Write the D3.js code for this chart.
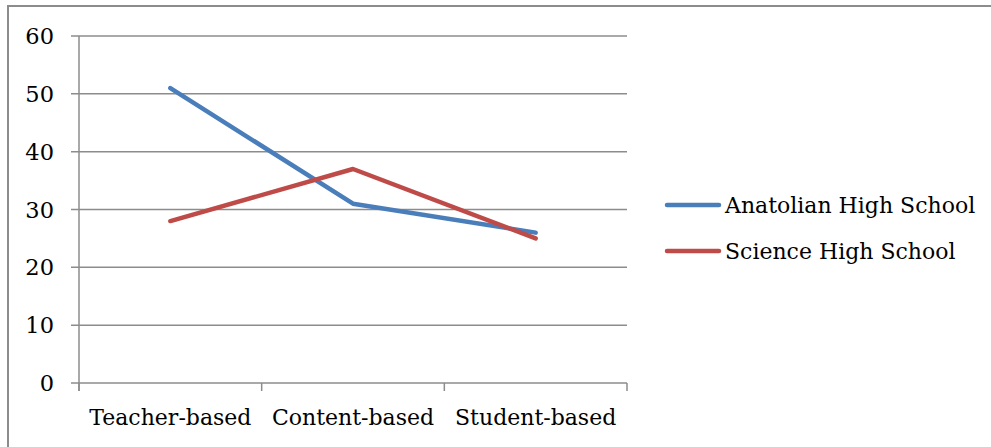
<!DOCTYPE html>
<style>
body { margin: 0; background: #fff; }
text { font-family: 'DejaVu Serif', serif; fill: #000; }
</style>
<div id="chart"></div>
<script src="https://d3js.org/d3.v7.min.js"></script>
<script>
var categories = ['Teacher-based', 'Content-based', 'Student-based']
var anatolian = [51, 31, 26]
var science = [28, 37, 25]
var seriesNames = ['Anatolian High School', 'Science High School']
var seriesColors = ['#4a7ebb', '#be4b48']
var yTicks = [0, 10, 20, 30, 40, 50, 60]

var W = 991, H = 447
var margin = { top: 36, left: 79, right: 364, bottom: 64 }
var width = W - margin.left - margin.right
var height = H - margin.top - margin.bottom

var svg = d3.select('#chart')
  .append('svg')
  .attr('width', W)
  .attr('height', H)

// chart border (right and bottom run off the page)
svg.append('rect')
  .attr('x', 8).attr('y', 6)
  .attr('width', W + 10).attr('height', H + 10)
  .attr('fill', 'none')
  .attr('stroke', '#8c8c8c')
  .attr('stroke-width', 2)

var g = svg.append('g')
  .attr('transform', 'translate(' + margin.left + ',' + margin.top + ')')

var x = d3.scaleBand().domain(categories).range([0, width])
var y = d3.scaleLinear().domain([0, 60]).range([height, 0])

// gridlines
g.selectAll('.grid')
  .data(yTicks)
  .enter().append('line')
  .attr('x1', -8).attr('x2', width)
  .attr('y1', d => y(d)).attr('y2', d => y(d))
  .attr('stroke', '#8c8c8c')
  .attr('stroke-width', 1.5)

// y axis line
g.append('line')
  .attr('x1', 0).attr('x2', 0)
  .attr('y1', 0).attr('y2', height + 8)
  .attr('stroke', '#8c8c8c')
  .attr('stroke-width', 1.5)

// x tick marks at band edges
var edges = categories.map(c => x(c)).concat([width])
g.selectAll('.xtick')
  .data(edges)
  .enter().append('line')
  .attr('x1', d => d).attr('x2', d => d)
  .attr('y1', height).attr('y2', height + 8)
  .attr('stroke', '#8c8c8c')
  .attr('stroke-width', 1.5)

g.selectAll('.ylabel')
  .data(yTicks)
  .enter().append('text')
  .attr('x', -25)
  .attr('y', d => y(d))
  .attr('dy', '0.36em')
  .attr('text-anchor', 'end')
  .attr('font-size', 22.5)
  .text(d => d)

g.selectAll('.xlabel')
  .data(categories)
  .enter().append('text')
  .attr('x', d => x(d) + x.bandwidth() / 2)
  .attr('y', height + 42)
  .attr('text-anchor', 'middle')
  .attr('font-size', 22)
  .text(d => d)

var line = d3.line()
  .x((d, i) => x(categories[i]) + x.bandwidth() / 2)
  .y(d => y(d))

;[anatolian, science].forEach(function(vals, i) {
  g.append('path')
    .datum(vals)
    .attr('d', line)
    .attr('fill', 'none')
    .attr('stroke', seriesColors[i])
    .attr('stroke-width', 4.5)
    .attr('stroke-linejoin', 'round')
    .attr('stroke-linecap', 'round')
})

// legend
var legend = svg.append('g').attr('transform', 'translate(667,205)')
seriesNames.forEach(function(name, i) {
  legend.append('line')
    .attr('x1', 0).attr('x2', 52)
    .attr('y1', i * 46).attr('y2', i * 46)
    .attr('stroke', seriesColors[i])
    .attr('stroke-width', 4.5)
    .attr('stroke-linecap', 'round')
  legend.append('text')
    .attr('x', 58)
    .attr('y', i * 46)
    .attr('dy', '0.35em')
    .attr('font-size', 22)
    .text(name)
})
</script>
